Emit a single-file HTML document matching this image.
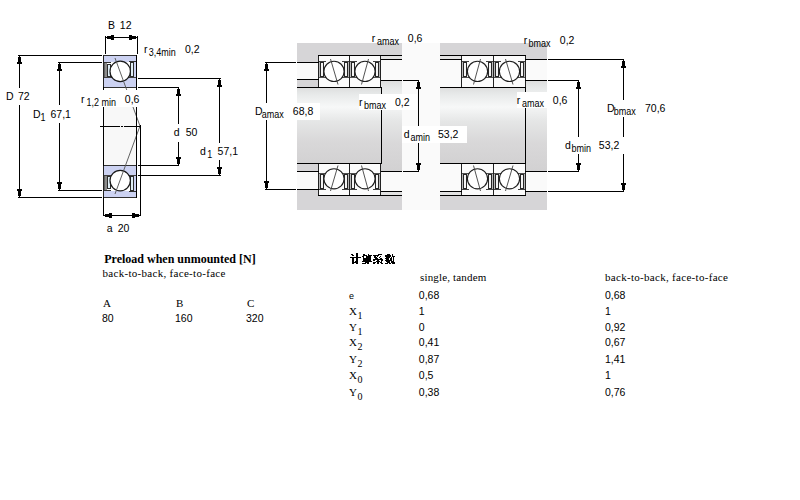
<!DOCTYPE html>
<html><head><meta charset="utf-8"><style>
html,body{margin:0;padding:0;background:#fff;width:800px;height:500px;overflow:hidden}
svg{display:block;position:absolute;left:0;top:0}

</style></head><body><svg width="800" height="500" viewBox="0 0 800 500" shape-rendering="crispEdges"><defs>
<linearGradient id="shaft" x1="0" y1="0" x2="0" y2="1">
<stop offset="0" stop-color="#dcdddd"/>
<stop offset="0.1" stop-color="#e8eaea"/>
<stop offset="0.26" stop-color="#f7f8f8"/>
<stop offset="0.45" stop-color="#e5e6e6"/>
<stop offset="0.7" stop-color="#d9d8d9"/>
<stop offset="1" stop-color="#d2d1d2"/>
</linearGradient>
<linearGradient id="shaft2" x1="0" y1="0" x2="0" y2="1">
<stop offset="0" stop-color="#f2f2f2"/>
<stop offset="1" stop-color="#e8e8e8"/>
</linearGradient>
</defs><rect x="104" y="107" width="32" height="58" fill="#f8f8f8"/><rect x="103" y="55" width="34" height="33" fill="#ffffff"/><rect x="104" y="56" width="33" height="6" fill="#ccd2f2"/><rect x="104" y="78" width="33" height="9" fill="#ccd2f2"/><rect x="134" y="62" width="2" height="16" fill="#ccd2f2"/><rect x="104" y="62" width="7" height="1" fill="#303030"/><rect x="129" y="61" width="7" height="1" fill="#303030"/><rect x="104" y="77" width="8" height="1" fill="#404040"/><rect x="128" y="77" width="8" height="1" fill="#404040"/><rect x="104" y="63" width="3" height="14" fill="#8c8c8c"/><rect x="104" y="63" width="1" height="14" fill="#606060"/><rect x="107" y="64" width="4" height="13" fill="#2c2c2c"/><rect x="108" y="65" width="2" height="11" fill="#dfeef6"/><rect x="130" y="62" width="4" height="15" fill="#2c2c2c"/><rect x="131" y="63" width="2" height="13" fill="#dfeef6"/><circle cx="120.2" cy="71.4" r="10.2" fill="#fff" stroke="#1a1a1a" stroke-width="1.2" shape-rendering="auto"/><rect x="103" y="55" width="33" height="1" fill="#303030"/><rect x="103" y="87" width="33" height="1" fill="#303030"/><rect x="103" y="55" width="1" height="33" fill="#202020"/><rect x="136" y="55" width="1" height="33" fill="#000"/><rect x="103" y="165" width="34" height="33" fill="#ffffff"/><rect x="104" y="191" width="33" height="6" fill="#ccd2f2"/><rect x="104" y="166" width="33" height="9" fill="#ccd2f2"/><rect x="134" y="175" width="2" height="16" fill="#ccd2f2"/><rect x="104" y="190" width="7" height="1" fill="#303030"/><rect x="129" y="191" width="7" height="1" fill="#303030"/><rect x="104" y="175" width="8" height="1" fill="#404040"/><rect x="128" y="175" width="8" height="1" fill="#404040"/><rect x="104" y="176" width="3" height="14" fill="#8c8c8c"/><rect x="104" y="176" width="1" height="14" fill="#606060"/><rect x="107" y="176" width="4" height="13" fill="#2c2c2c"/><rect x="108" y="177" width="2" height="11" fill="#dfeef6"/><rect x="130" y="176" width="4" height="15" fill="#2c2c2c"/><rect x="131" y="177" width="2" height="13" fill="#dfeef6"/><circle cx="120.2" cy="180.6" r="10.2" fill="#fff" stroke="#1a1a1a" stroke-width="1.2" shape-rendering="auto"/><rect x="103" y="165" width="33" height="1" fill="#303030"/><rect x="103" y="197" width="33" height="1" fill="#303030"/><rect x="103" y="165" width="1" height="33" fill="#202020"/><rect x="136" y="165" width="1" height="33" fill="#000"/><polyline points="115,58 140,126 115,194" fill="none" stroke="#505050" stroke-width="0.9" shape-rendering="auto"/><rect x="103" y="87" width="1" height="79" fill="#000"/><rect x="136" y="87" width="1" height="79" fill="#000"/><rect x="140" y="125" width="1" height="91" fill="#000"/><rect x="103" y="197" width="1" height="19" fill="#000"/><rect x="100" y="126" width="20" height="1" fill="#000"/><rect x="121" y="126" width="2" height="1" fill="#000"/><rect x="124" y="126" width="17" height="1" fill="#000"/><rect x="18" y="55" width="84" height="1" fill="#000"/><rect x="18" y="197" width="84" height="1" fill="#000"/><rect x="58" y="62" width="44" height="1" fill="#000"/><rect x="58" y="190" width="44" height="1" fill="#000"/><rect x="138" y="87" width="41" height="1" fill="#000"/><rect x="138" y="165" width="41" height="1" fill="#000"/><rect x="138" y="78" width="83" height="1" fill="#000"/><rect x="138" y="175" width="83" height="1" fill="#000"/><rect x="19" y="56" width="1" height="32" fill="#000"/><rect x="19" y="105" width="1" height="92" fill="#000"/><rect x="19" y="56" width="1" height="1" fill="#000"/><rect x="18" y="57" width="3" height="5" fill="#000"/><rect x="17" y="62" width="5" height="2" fill="#000"/><rect x="19" y="196" width="1" height="1" fill="#000"/><rect x="18" y="191" width="3" height="5" fill="#000"/><rect x="17" y="189" width="5" height="2" fill="#000"/><rect x="59" y="63" width="1" height="42" fill="#000"/><rect x="59" y="123" width="1" height="67" fill="#000"/><rect x="59" y="63" width="1" height="1" fill="#000"/><rect x="58" y="64" width="3" height="5" fill="#000"/><rect x="57" y="69" width="5" height="2" fill="#000"/><rect x="59" y="189" width="1" height="1" fill="#000"/><rect x="58" y="184" width="3" height="5" fill="#000"/><rect x="57" y="182" width="5" height="2" fill="#000"/><rect x="178" y="88" width="1" height="36" fill="#000"/><rect x="178" y="141" width="1" height="24" fill="#000"/><rect x="178" y="88" width="1" height="1" fill="#000"/><rect x="177" y="89" width="3" height="5" fill="#000"/><rect x="176" y="94" width="5" height="2" fill="#000"/><rect x="178" y="164" width="1" height="1" fill="#000"/><rect x="177" y="159" width="3" height="5" fill="#000"/><rect x="176" y="157" width="5" height="2" fill="#000"/><rect x="219" y="79" width="1" height="64" fill="#000"/><rect x="219" y="160" width="1" height="15" fill="#000"/><rect x="219" y="79" width="1" height="1" fill="#000"/><rect x="218" y="80" width="3" height="5" fill="#000"/><rect x="217" y="85" width="5" height="2" fill="#000"/><rect x="219" y="174" width="1" height="1" fill="#000"/><rect x="218" y="169" width="3" height="5" fill="#000"/><rect x="217" y="167" width="5" height="2" fill="#000"/><rect x="105" y="36" width="1" height="18" fill="#000"/><rect x="137" y="36" width="1" height="18" fill="#000"/><rect x="106" y="37" width="31" height="1" fill="#000"/><rect x="106" y="37" width="1" height="1" fill="#000"/><rect x="107" y="36" width="4" height="3" fill="#000"/><rect x="111" y="35" width="3" height="5" fill="#000"/><rect x="136" y="37" width="1" height="1" fill="#000"/><rect x="132" y="36" width="4" height="3" fill="#000"/><rect x="129" y="35" width="3" height="5" fill="#000"/><rect x="103" y="215" width="38" height="1" fill="#000"/><rect x="104" y="215" width="1" height="1" fill="#000"/><rect x="105" y="214" width="4" height="3" fill="#000"/><rect x="109" y="213" width="3" height="5" fill="#000"/><rect x="139" y="215" width="1" height="1" fill="#000"/><rect x="135" y="214" width="4" height="3" fill="#000"/><rect x="132" y="213" width="3" height="5" fill="#000"/><rect x="297" y="43" width="250" height="167" fill="#fafafa"/><rect x="297" y="43" width="105" height="12" fill="#d6d5d7"/><rect x="297" y="55" width="21" height="7" fill="#d6d5d7"/><rect x="381" y="55" width="21" height="4" fill="#e2e2e2"/><rect x="297" y="196" width="105" height="14" fill="#d6d5d7"/><rect x="297" y="189" width="21" height="7" fill="#d6d5d7"/><rect x="381" y="191" width="21" height="4" fill="#e2e2e2"/><rect x="297" y="87" width="84" height="77" fill="url(#shaft)"/><rect x="297" y="79" width="21" height="8" fill="#d6d5d7"/><rect x="297" y="164" width="21" height="7" fill="#d6d5d7"/><rect x="381" y="80" width="21" height="91" fill="url(#shaft)"/><rect x="440" y="43" width="107" height="12" fill="#d6d5d7"/><rect x="440" y="55" width="21" height="4" fill="#e2e2e2"/><rect x="525" y="55" width="22" height="4" fill="#d6d5d7"/><rect x="440" y="196" width="107" height="14" fill="#d6d5d7"/><rect x="440" y="191" width="21" height="4" fill="#e2e2e2"/><rect x="525" y="191" width="22" height="5" fill="#d6d5d7"/><rect x="440" y="87" width="85" height="77" fill="url(#shaft)"/><rect x="525" y="80" width="22" height="91" fill="url(#shaft)"/><rect x="318" y="55" width="32" height="33" fill="#fbfbfb"/><rect x="319" y="61" width="7" height="1" fill="#404040"/><rect x="342" y="61" width="7" height="1" fill="#404040"/><rect x="319" y="77" width="7" height="1" fill="#505050"/><rect x="342" y="77" width="7" height="1" fill="#505050"/><circle cx="334.0" cy="71.4" r="10.1" fill="#fff" stroke="#1e1e1e" stroke-width="1.1" shape-rendering="auto"/><rect x="319" y="62" width="1" height="15" fill="#b8b8b8"/><rect x="320" y="62" width="4" height="15" fill="#262626"/><rect x="321" y="63" width="2" height="13" fill="#f4f4f4"/><rect x="348" y="62" width="1" height="15" fill="#b8b8b8"/><rect x="344" y="62" width="4" height="15" fill="#262626"/><rect x="345" y="63" width="2" height="13" fill="#f4f4f4"/><line x1="330.5" y1="59" x2="338" y2="84.5" stroke="#404040" stroke-width="0.9" shape-rendering="auto"/><rect x="318" y="55" width="32" height="1" fill="#222"/><rect x="318" y="87" width="32" height="1" fill="#222"/><rect x="318" y="55" width="1" height="33" fill="#222"/><rect x="349" y="55" width="1" height="33" fill="#222"/><rect x="349" y="55" width="32" height="33" fill="#fbfbfb"/><rect x="350" y="61" width="7" height="1" fill="#404040"/><rect x="373" y="61" width="7" height="1" fill="#404040"/><rect x="350" y="77" width="7" height="1" fill="#505050"/><rect x="373" y="77" width="7" height="1" fill="#505050"/><circle cx="365.0" cy="71.4" r="10.1" fill="#fff" stroke="#1e1e1e" stroke-width="1.1" shape-rendering="auto"/><rect x="350" y="62" width="1" height="15" fill="#b8b8b8"/><rect x="351" y="62" width="4" height="15" fill="#262626"/><rect x="352" y="63" width="2" height="13" fill="#f4f4f4"/><rect x="379" y="62" width="1" height="15" fill="#b8b8b8"/><rect x="375" y="62" width="4" height="15" fill="#262626"/><rect x="376" y="63" width="2" height="13" fill="#f4f4f4"/><line x1="368.5" y1="59" x2="361.5" y2="84.5" stroke="#404040" stroke-width="0.9" shape-rendering="auto"/><rect x="349" y="55" width="32" height="1" fill="#222"/><rect x="349" y="87" width="32" height="1" fill="#222"/><rect x="349" y="55" width="1" height="33" fill="#222"/><rect x="380" y="55" width="1" height="33" fill="#222"/><rect x="318" y="163" width="32" height="33" fill="#fbfbfb"/><rect x="319" y="189" width="7" height="1" fill="#404040"/><rect x="342" y="189" width="7" height="1" fill="#404040"/><rect x="319" y="173" width="7" height="1" fill="#505050"/><rect x="342" y="173" width="7" height="1" fill="#505050"/><circle cx="334.0" cy="178.8" r="10.1" fill="#fff" stroke="#1e1e1e" stroke-width="1.1" shape-rendering="auto"/><rect x="319" y="174" width="1" height="15" fill="#b8b8b8"/><rect x="320" y="174" width="4" height="15" fill="#262626"/><rect x="321" y="175" width="2" height="13" fill="#f4f4f4"/><rect x="348" y="174" width="1" height="15" fill="#b8b8b8"/><rect x="344" y="174" width="4" height="15" fill="#262626"/><rect x="345" y="175" width="2" height="13" fill="#f4f4f4"/><line x1="330.5" y1="191" x2="338" y2="165.5" stroke="#404040" stroke-width="0.9" shape-rendering="auto"/><rect x="318" y="163" width="32" height="1" fill="#222"/><rect x="318" y="195" width="32" height="1" fill="#222"/><rect x="318" y="163" width="1" height="33" fill="#222"/><rect x="349" y="163" width="1" height="33" fill="#222"/><rect x="349" y="163" width="32" height="33" fill="#fbfbfb"/><rect x="350" y="189" width="7" height="1" fill="#404040"/><rect x="373" y="189" width="7" height="1" fill="#404040"/><rect x="350" y="173" width="7" height="1" fill="#505050"/><rect x="373" y="173" width="7" height="1" fill="#505050"/><circle cx="365.0" cy="178.8" r="10.1" fill="#fff" stroke="#1e1e1e" stroke-width="1.1" shape-rendering="auto"/><rect x="350" y="174" width="1" height="15" fill="#b8b8b8"/><rect x="351" y="174" width="4" height="15" fill="#262626"/><rect x="352" y="175" width="2" height="13" fill="#f4f4f4"/><rect x="379" y="174" width="1" height="15" fill="#b8b8b8"/><rect x="375" y="174" width="4" height="15" fill="#262626"/><rect x="376" y="175" width="2" height="13" fill="#f4f4f4"/><line x1="368.5" y1="191" x2="361.5" y2="165.5" stroke="#404040" stroke-width="0.9" shape-rendering="auto"/><rect x="349" y="163" width="32" height="1" fill="#222"/><rect x="349" y="195" width="32" height="1" fill="#222"/><rect x="349" y="163" width="1" height="33" fill="#222"/><rect x="380" y="163" width="1" height="33" fill="#222"/><rect x="461" y="55" width="33" height="33" fill="#fbfbfb"/><rect x="462" y="61" width="7" height="1" fill="#404040"/><rect x="486" y="61" width="7" height="1" fill="#404040"/><rect x="462" y="77" width="7" height="1" fill="#505050"/><rect x="486" y="77" width="7" height="1" fill="#505050"/><circle cx="477.5" cy="71.4" r="10.1" fill="#fff" stroke="#1e1e1e" stroke-width="1.1" shape-rendering="auto"/><rect x="462" y="62" width="1" height="15" fill="#b8b8b8"/><rect x="463" y="62" width="4" height="15" fill="#262626"/><rect x="464" y="63" width="2" height="13" fill="#f4f4f4"/><rect x="492" y="62" width="1" height="15" fill="#b8b8b8"/><rect x="488" y="62" width="4" height="15" fill="#262626"/><rect x="489" y="63" width="2" height="13" fill="#f4f4f4"/><line x1="480.5" y1="59" x2="473.5" y2="84.5" stroke="#404040" stroke-width="0.9" shape-rendering="auto"/><rect x="461" y="55" width="33" height="1" fill="#222"/><rect x="461" y="87" width="33" height="1" fill="#222"/><rect x="461" y="55" width="1" height="33" fill="#222"/><rect x="493" y="55" width="1" height="33" fill="#222"/><rect x="493" y="55" width="33" height="33" fill="#fbfbfb"/><rect x="494" y="61" width="7" height="1" fill="#404040"/><rect x="518" y="61" width="7" height="1" fill="#404040"/><rect x="494" y="77" width="7" height="1" fill="#505050"/><rect x="518" y="77" width="7" height="1" fill="#505050"/><circle cx="509.5" cy="71.4" r="10.1" fill="#fff" stroke="#1e1e1e" stroke-width="1.1" shape-rendering="auto"/><rect x="494" y="62" width="1" height="15" fill="#b8b8b8"/><rect x="495" y="62" width="4" height="15" fill="#262626"/><rect x="496" y="63" width="2" height="13" fill="#f4f4f4"/><rect x="524" y="62" width="1" height="15" fill="#b8b8b8"/><rect x="520" y="62" width="4" height="15" fill="#262626"/><rect x="521" y="63" width="2" height="13" fill="#f4f4f4"/><line x1="505.5" y1="59" x2="513" y2="84.5" stroke="#404040" stroke-width="0.9" shape-rendering="auto"/><rect x="493" y="55" width="33" height="1" fill="#222"/><rect x="493" y="87" width="33" height="1" fill="#222"/><rect x="493" y="55" width="1" height="33" fill="#222"/><rect x="525" y="55" width="1" height="33" fill="#222"/><rect x="461" y="163" width="33" height="33" fill="#fbfbfb"/><rect x="462" y="189" width="7" height="1" fill="#404040"/><rect x="486" y="189" width="7" height="1" fill="#404040"/><rect x="462" y="173" width="7" height="1" fill="#505050"/><rect x="486" y="173" width="7" height="1" fill="#505050"/><circle cx="477.5" cy="178.8" r="10.1" fill="#fff" stroke="#1e1e1e" stroke-width="1.1" shape-rendering="auto"/><rect x="462" y="174" width="1" height="15" fill="#b8b8b8"/><rect x="463" y="174" width="4" height="15" fill="#262626"/><rect x="464" y="175" width="2" height="13" fill="#f4f4f4"/><rect x="492" y="174" width="1" height="15" fill="#b8b8b8"/><rect x="488" y="174" width="4" height="15" fill="#262626"/><rect x="489" y="175" width="2" height="13" fill="#f4f4f4"/><line x1="480.5" y1="191" x2="473.5" y2="165.5" stroke="#404040" stroke-width="0.9" shape-rendering="auto"/><rect x="461" y="163" width="33" height="1" fill="#222"/><rect x="461" y="195" width="33" height="1" fill="#222"/><rect x="461" y="163" width="1" height="33" fill="#222"/><rect x="493" y="163" width="1" height="33" fill="#222"/><rect x="493" y="163" width="33" height="33" fill="#fbfbfb"/><rect x="494" y="189" width="7" height="1" fill="#404040"/><rect x="518" y="189" width="7" height="1" fill="#404040"/><rect x="494" y="173" width="7" height="1" fill="#505050"/><rect x="518" y="173" width="7" height="1" fill="#505050"/><circle cx="509.5" cy="178.8" r="10.1" fill="#fff" stroke="#1e1e1e" stroke-width="1.1" shape-rendering="auto"/><rect x="494" y="174" width="1" height="15" fill="#b8b8b8"/><rect x="495" y="174" width="4" height="15" fill="#262626"/><rect x="496" y="175" width="2" height="13" fill="#f4f4f4"/><rect x="524" y="174" width="1" height="15" fill="#b8b8b8"/><rect x="520" y="174" width="4" height="15" fill="#262626"/><rect x="521" y="175" width="2" height="13" fill="#f4f4f4"/><line x1="505.5" y1="191" x2="513" y2="165.5" stroke="#404040" stroke-width="0.9" shape-rendering="auto"/><rect x="493" y="163" width="33" height="1" fill="#222"/><rect x="493" y="195" width="33" height="1" fill="#222"/><rect x="493" y="163" width="1" height="33" fill="#222"/><rect x="525" y="163" width="1" height="33" fill="#222"/><rect x="318" y="55" width="84" height="1" fill="#000"/><rect x="381" y="59" width="21" height="1" fill="#000"/><rect x="265" y="62" width="31" height="1" fill="#000"/><rect x="297" y="62" width="22" height="1" fill="#000"/><rect x="297" y="79" width="22" height="1" fill="#000"/><rect x="381" y="80" width="21" height="1" fill="#000"/><rect x="403" y="80" width="16" height="1" fill="#000"/><rect x="297" y="87" width="85" height="1" fill="#000"/><rect x="381" y="87" width="1" height="77" fill="#000"/><rect x="297" y="163" width="85" height="1" fill="#000"/><rect x="297" y="171" width="22" height="1" fill="#000"/><rect x="381" y="171" width="21" height="1" fill="#000"/><rect x="403" y="171" width="16" height="1" fill="#000"/><rect x="265" y="189" width="31" height="1" fill="#000"/><rect x="297" y="189" width="22" height="1" fill="#000"/><rect x="381" y="191" width="21" height="1" fill="#000"/><rect x="318" y="195" width="84" height="1" fill="#000"/><rect x="266" y="63" width="1" height="40" fill="#000"/><rect x="266" y="120" width="1" height="69" fill="#000"/><rect x="266" y="63" width="1" height="1" fill="#000"/><rect x="265" y="64" width="3" height="5" fill="#000"/><rect x="264" y="69" width="5" height="2" fill="#000"/><rect x="266" y="188" width="1" height="1" fill="#000"/><rect x="265" y="183" width="3" height="5" fill="#000"/><rect x="264" y="181" width="5" height="2" fill="#000"/><rect x="418" y="81" width="1" height="45" fill="#000"/><rect x="418" y="143" width="1" height="28" fill="#000"/><rect x="418" y="81" width="1" height="1" fill="#000"/><rect x="417" y="82" width="3" height="5" fill="#000"/><rect x="416" y="87" width="5" height="2" fill="#000"/><rect x="418" y="170" width="1" height="1" fill="#000"/><rect x="417" y="165" width="3" height="5" fill="#000"/><rect x="416" y="163" width="5" height="2" fill="#000"/><rect x="440" y="55" width="86" height="1" fill="#000"/><rect x="440" y="59" width="22" height="1" fill="#000"/><rect x="525" y="59" width="22" height="1" fill="#000"/><rect x="548" y="59" width="76" height="1" fill="#000"/><rect x="525" y="80" width="22" height="1" fill="#000"/><rect x="548" y="80" width="31" height="1" fill="#000"/><rect x="440" y="87" width="86" height="1" fill="#000"/><rect x="525" y="87" width="1" height="77" fill="#000"/><rect x="440" y="163" width="86" height="1" fill="#000"/><rect x="525" y="171" width="22" height="1" fill="#000"/><rect x="548" y="171" width="31" height="1" fill="#000"/><rect x="440" y="191" width="22" height="1" fill="#000"/><rect x="525" y="191" width="22" height="1" fill="#000"/><rect x="548" y="191" width="76" height="1" fill="#000"/><rect x="440" y="195" width="86" height="1" fill="#000"/><rect x="578" y="81" width="1" height="56" fill="#000"/><rect x="578" y="154" width="1" height="17" fill="#000"/><rect x="578" y="81" width="1" height="1" fill="#000"/><rect x="577" y="82" width="3" height="5" fill="#000"/><rect x="576" y="87" width="5" height="2" fill="#000"/><rect x="578" y="170" width="1" height="1" fill="#000"/><rect x="577" y="165" width="3" height="5" fill="#000"/><rect x="576" y="163" width="5" height="2" fill="#000"/><rect x="623" y="60" width="1" height="40" fill="#000"/><rect x="623" y="117" width="1" height="74" fill="#000"/><rect x="623" y="60" width="1" height="1" fill="#000"/><rect x="622" y="61" width="3" height="5" fill="#000"/><rect x="621" y="66" width="5" height="2" fill="#000"/><rect x="623" y="190" width="1" height="1" fill="#000"/><rect x="622" y="185" width="3" height="5" fill="#000"/><rect x="621" y="183" width="5" height="2" fill="#000"/><rect x="4" y="88" width="30" height="17" fill="#fff"/><rect x="30" y="105" width="44" height="18" fill="#fff"/><rect x="78" y="90" width="64" height="17" fill="#fff"/><rect x="170" y="125" width="34" height="17" fill="#fff"/><rect x="198" y="143" width="44" height="17" fill="#fff"/><rect x="254" y="103" width="66" height="17" fill="#fff"/><rect x="359" y="94" width="58" height="16" fill="#fff"/><rect x="402" y="126" width="65" height="17" fill="#fff"/><rect x="517" y="92" width="54" height="16" fill="#fff"/><rect x="600" y="100" width="70" height="17" fill="#fff"/><rect x="560" y="137" width="70" height="17" fill="#fff"/><rect x="356" y="253" width="2" height="1" fill="#000"/><rect x="351" y="254" width="2" height="1" fill="#000"/><rect x="356" y="254" width="2" height="1" fill="#000"/><rect x="352" y="255" width="2" height="1" fill="#000"/><rect x="356" y="255" width="2" height="1" fill="#000"/><rect x="356" y="256" width="2" height="1" fill="#000"/><rect x="350" y="257" width="11" height="1" fill="#000"/><rect x="352" y="258" width="2" height="1" fill="#000"/><rect x="356" y="258" width="2" height="1" fill="#000"/><rect x="352" y="259" width="2" height="1" fill="#000"/><rect x="356" y="259" width="2" height="1" fill="#000"/><rect x="352" y="260" width="2" height="1" fill="#000"/><rect x="356" y="260" width="2" height="1" fill="#000"/><rect x="352" y="261" width="2" height="1" fill="#000"/><rect x="355" y="261" width="3" height="1" fill="#000"/><rect x="352" y="262" width="6" height="1" fill="#000"/><rect x="352" y="263" width="2" height="1" fill="#000"/><rect x="356" y="263" width="2" height="1" fill="#000"/><rect x="363" y="254" width="2" height="1" fill="#000"/><rect x="368" y="254" width="1" height="1" fill="#000"/><rect x="363" y="255" width="4" height="1" fill="#000"/><rect x="368" y="255" width="4" height="1" fill="#000"/><rect x="362" y="256" width="2" height="1" fill="#000"/><rect x="366" y="256" width="5" height="1" fill="#000"/><rect x="363" y="257" width="1" height="1" fill="#000"/><rect x="366" y="257" width="5" height="1" fill="#000"/><rect x="363" y="258" width="8" height="1" fill="#000"/><rect x="363" y="259" width="8" height="1" fill="#000"/><rect x="363" y="260" width="8" height="1" fill="#000"/><rect x="362" y="261" width="10" height="1" fill="#000"/><rect x="365" y="262" width="4" height="1" fill="#000"/><rect x="362" y="263" width="4" height="1" fill="#000"/><rect x="367" y="263" width="2" height="1" fill="#000"/><rect x="378" y="254" width="4" height="1" fill="#000"/><rect x="373" y="255" width="6" height="1" fill="#000"/><rect x="374" y="256" width="2" height="1" fill="#000"/><rect x="377" y="256" width="1" height="1" fill="#000"/><rect x="380" y="256" width="1" height="1" fill="#000"/><rect x="374" y="257" width="3" height="1" fill="#000"/><rect x="379" y="257" width="1" height="1" fill="#000"/><rect x="375" y="258" width="3" height="1" fill="#000"/><rect x="380" y="258" width="2" height="1" fill="#000"/><rect x="373" y="259" width="10" height="1" fill="#000"/><rect x="373" y="260" width="2" height="1" fill="#000"/><rect x="377" y="260" width="2" height="1" fill="#000"/><rect x="381" y="260" width="2" height="1" fill="#000"/><rect x="376" y="261" width="4" height="1" fill="#000"/><rect x="381" y="261" width="1" height="1" fill="#000"/><rect x="373" y="262" width="3" height="1" fill="#000"/><rect x="377" y="262" width="2" height="1" fill="#000"/><rect x="380" y="262" width="2" height="1" fill="#000"/><rect x="373" y="263" width="2" height="1" fill="#000"/><rect x="377" y="263" width="2" height="1" fill="#000"/><rect x="381" y="263" width="2" height="1" fill="#000"/><rect x="387" y="254" width="3" height="1" fill="#000"/><rect x="392" y="254" width="1" height="1" fill="#000"/><rect x="385" y="255" width="6" height="1" fill="#000"/><rect x="392" y="255" width="1" height="1" fill="#000"/><rect x="385" y="256" width="6" height="1" fill="#000"/><rect x="392" y="256" width="3" height="1" fill="#000"/><rect x="386" y="257" width="4" height="1" fill="#000"/><rect x="391" y="257" width="1" height="1" fill="#000"/><rect x="393" y="257" width="1" height="1" fill="#000"/><rect x="385" y="258" width="4" height="1" fill="#000"/><rect x="390" y="258" width="2" height="1" fill="#000"/><rect x="393" y="258" width="1" height="1" fill="#000"/><rect x="386" y="259" width="3" height="1" fill="#000"/><rect x="390" y="259" width="2" height="1" fill="#000"/><rect x="393" y="259" width="1" height="1" fill="#000"/><rect x="385" y="260" width="7" height="1" fill="#000"/><rect x="393" y="260" width="1" height="1" fill="#000"/><rect x="386" y="261" width="4" height="1" fill="#000"/><rect x="391" y="261" width="3" height="1" fill="#000"/><rect x="387" y="262" width="3" height="1" fill="#000"/><rect x="391" y="262" width="4" height="1" fill="#000"/><rect x="385" y="263" width="3" height="1" fill="#000"/><rect x="389" y="263" width="2" height="1" fill="#000"/><rect x="392" y="263" width="3" height="1" fill="#000"/><g shape-rendering="auto"><text x="108.0" y="29" font-family="Liberation Sans" font-size="10.5" font-weight="normal" fill="#000">B</text><text x="119.8" y="29" font-family="Liberation Sans" font-size="10.5" font-weight="normal" fill="#000">12</text><text x="144.0" y="53" font-family="Liberation Sans" font-size="10.5" font-weight="normal" fill="#000">r</text><text transform="translate(148.8,56) scale(0.9,1)" font-family="Liberation Sans" font-size="10" font-weight="normal" fill="#000">3,4min</text><text x="185.0" y="53" font-family="Liberation Sans" font-size="10.5" font-weight="normal" fill="#000">0,2</text><text x="6.0" y="100" font-family="Liberation Sans" font-size="10.5" font-weight="normal" fill="#000">D</text><text x="18.0" y="100" font-family="Liberation Sans" font-size="10.5" font-weight="normal" fill="#000">72</text><text x="33.0" y="118" font-family="Liberation Sans" font-size="10.5" font-weight="normal" fill="#000">D</text><text transform="translate(40.5,121) scale(0.9,1)" font-family="Liberation Sans" font-size="10" font-weight="normal" fill="#000">1</text><text x="50.5" y="118" font-family="Liberation Sans" font-size="10.5" font-weight="normal" fill="#000">67,1</text><text x="81.0" y="103" font-family="Liberation Sans" font-size="10.5" font-weight="normal" fill="#000">r</text><text transform="translate(86.5,106) scale(0.9,1)" font-family="Liberation Sans" font-size="10" font-weight="normal" fill="#000">1,2 min</text><text x="124.8" y="103" font-family="Liberation Sans" font-size="10.5" font-weight="normal" fill="#000">0,6</text><text x="173.75" y="136" font-family="Liberation Sans" font-size="10.5" font-weight="normal" fill="#000">d</text><text x="185.75" y="136" font-family="Liberation Sans" font-size="10.5" font-weight="normal" fill="#000">50</text><text x="200.0" y="155" font-family="Liberation Sans" font-size="10.5" font-weight="normal" fill="#000">d</text><text transform="translate(207.2,158) scale(0.9,1)" font-family="Liberation Sans" font-size="10" font-weight="normal" fill="#000">1</text><text x="217.6" y="155" font-family="Liberation Sans" font-size="10.5" font-weight="normal" fill="#000">57,1</text><text x="106.75" y="232" font-family="Liberation Sans" font-size="10.5" font-weight="normal" fill="#000">a</text><text x="117.75" y="232" font-family="Liberation Sans" font-size="10.5" font-weight="normal" fill="#000">20</text><text x="371.8" y="42" font-family="Liberation Sans" font-size="10.5" font-weight="normal" fill="#000">r</text><text transform="translate(377.0,45) scale(0.9,1)" font-family="Liberation Sans" font-size="10" font-weight="normal" fill="#000">amax</text><text x="407.8" y="42" font-family="Liberation Sans" font-size="10.5" font-weight="normal" fill="#000">0,6</text><text x="255.0" y="115" font-family="Liberation Sans" font-size="10.5" font-weight="normal" fill="#000">D</text><text transform="translate(261.8,118) scale(0.9,1)" font-family="Liberation Sans" font-size="10" font-weight="normal" fill="#000">amax</text><text x="292.8" y="115" font-family="Liberation Sans" font-size="10.5" font-weight="normal" fill="#000">68,8</text><text x="359.0" y="106" font-family="Liberation Sans" font-size="10.5" font-weight="normal" fill="#000">r</text><text transform="translate(364.0,109) scale(0.9,1)" font-family="Liberation Sans" font-size="10" font-weight="normal" fill="#000">bmax</text><text x="395.0" y="106" font-family="Liberation Sans" font-size="10.5" font-weight="normal" fill="#000">0,2</text><text x="403.8" y="138" font-family="Liberation Sans" font-size="10.5" font-weight="normal" fill="#000">d</text><text transform="translate(410.5,141) scale(0.9,1)" font-family="Liberation Sans" font-size="10" font-weight="normal" fill="#000">amin</text><text x="438.0" y="138" font-family="Liberation Sans" font-size="10.5" font-weight="normal" fill="#000">53,2</text><text x="523.8" y="44" font-family="Liberation Sans" font-size="10.5" font-weight="normal" fill="#000">r</text><text transform="translate(528.5,47) scale(0.9,1)" font-family="Liberation Sans" font-size="10" font-weight="normal" fill="#000">bmax</text><text x="559.8" y="44" font-family="Liberation Sans" font-size="10.5" font-weight="normal" fill="#000">0,2</text><text x="516.8" y="104" font-family="Liberation Sans" font-size="10.5" font-weight="normal" fill="#000">r</text><text transform="translate(522.0,107) scale(0.9,1)" font-family="Liberation Sans" font-size="10" font-weight="normal" fill="#000">amax</text><text x="552.8" y="104" font-family="Liberation Sans" font-size="10.5" font-weight="normal" fill="#000">0,6</text><text x="607.0" y="112" font-family="Liberation Sans" font-size="10.5" font-weight="normal" fill="#000">D</text><text transform="translate(613.8,115) scale(0.9,1)" font-family="Liberation Sans" font-size="10" font-weight="normal" fill="#000">bmax</text><text x="645.0" y="112" font-family="Liberation Sans" font-size="10.5" font-weight="normal" fill="#000">70,6</text><text x="565.0" y="149" font-family="Liberation Sans" font-size="10.5" font-weight="normal" fill="#000">d</text><text transform="translate(571.5,152) scale(0.9,1)" font-family="Liberation Sans" font-size="10" font-weight="normal" fill="#000">bmin</text><text x="598.8" y="149" font-family="Liberation Sans" font-size="10.5" font-weight="normal" fill="#000">53,2</text><text x="102.0" y="322" font-family="Liberation Sans" font-size="10.5" font-weight="normal" fill="#000">80</text><text x="175.0" y="322" font-family="Liberation Sans" font-size="10.5" font-weight="normal" fill="#000">160</text><text x="246.0" y="322" font-family="Liberation Sans" font-size="10.5" font-weight="normal" fill="#000">320</text><text x="104.2" y="263" font-family="Liberation Serif" font-size="12" font-weight="bold" fill="#000">Preload when unmounted [N]</text><text x="102.5" y="277" font-family="Liberation Serif" font-size="11" font-weight="normal" fill="#000" letter-spacing="0.3">back-to-back, face-to-face</text><text x="103.0" y="307" font-family="Liberation Serif" font-size="11" font-weight="normal" fill="#000">A</text><text x="176.0" y="307" font-family="Liberation Serif" font-size="11" font-weight="normal" fill="#000">B</text><text x="246.9" y="307" font-family="Liberation Serif" font-size="11" font-weight="normal" fill="#000">C</text><text x="420.0" y="281" font-family="Liberation Serif" font-size="11" font-weight="normal" fill="#000" letter-spacing="0.16">single, tandem</text><text x="605.0" y="281" font-family="Liberation Serif" font-size="11" font-weight="normal" fill="#000" letter-spacing="0.3">back-to-back, face-to-face</text><text x="349.0" y="299" font-family="Liberation Sans" font-size="9" font-weight="normal" fill="#000">e</text><text x="418.8" y="299" font-family="Liberation Sans" font-size="10.5" font-weight="normal" fill="#000">0,68</text><text x="605.0" y="299" font-family="Liberation Sans" font-size="10.5" font-weight="normal" fill="#000">0,68</text><text x="349.0" y="315" font-family="Liberation Serif" font-size="11" font-weight="normal" fill="#000">X</text><text x="357.5" y="319" font-family="Liberation Serif" font-size="10" font-weight="normal" fill="#000">1</text><text x="418.8" y="315" font-family="Liberation Sans" font-size="10.5" font-weight="normal" fill="#000">1</text><text x="605.0" y="315" font-family="Liberation Sans" font-size="10.5" font-weight="normal" fill="#000">1</text><text x="349.0" y="331" font-family="Liberation Serif" font-size="11" font-weight="normal" fill="#000">Y</text><text x="357.5" y="335" font-family="Liberation Serif" font-size="10" font-weight="normal" fill="#000">1</text><text x="418.8" y="331" font-family="Liberation Sans" font-size="10.5" font-weight="normal" fill="#000">0</text><text x="605.0" y="331" font-family="Liberation Sans" font-size="10.5" font-weight="normal" fill="#000">0,92</text><text x="349.0" y="346" font-family="Liberation Serif" font-size="11" font-weight="normal" fill="#000">X</text><text x="357.5" y="350" font-family="Liberation Serif" font-size="10" font-weight="normal" fill="#000">2</text><text x="418.8" y="346" font-family="Liberation Sans" font-size="10.5" font-weight="normal" fill="#000">0,41</text><text x="605.0" y="346" font-family="Liberation Sans" font-size="10.5" font-weight="normal" fill="#000">0,67</text><text x="349.0" y="363" font-family="Liberation Serif" font-size="11" font-weight="normal" fill="#000">Y</text><text x="357.5" y="367" font-family="Liberation Serif" font-size="10" font-weight="normal" fill="#000">2</text><text x="418.8" y="363" font-family="Liberation Sans" font-size="10.5" font-weight="normal" fill="#000">0,87</text><text x="605.0" y="363" font-family="Liberation Sans" font-size="10.5" font-weight="normal" fill="#000">1,41</text><text x="349.0" y="379" font-family="Liberation Serif" font-size="11" font-weight="normal" fill="#000">X</text><text x="357.5" y="383" font-family="Liberation Serif" font-size="10" font-weight="normal" fill="#000">0</text><text x="418.8" y="379" font-family="Liberation Sans" font-size="10.5" font-weight="normal" fill="#000">0,5</text><text x="605.0" y="379" font-family="Liberation Sans" font-size="10.5" font-weight="normal" fill="#000">1</text><text x="349.0" y="396" font-family="Liberation Serif" font-size="11" font-weight="normal" fill="#000">Y</text><text x="357.5" y="400" font-family="Liberation Serif" font-size="10" font-weight="normal" fill="#000">0</text><text x="418.8" y="396" font-family="Liberation Sans" font-size="10.5" font-weight="normal" fill="#000">0,38</text><text x="605.0" y="396" font-family="Liberation Sans" font-size="10.5" font-weight="normal" fill="#000">0,76</text></g></svg></body></html>
